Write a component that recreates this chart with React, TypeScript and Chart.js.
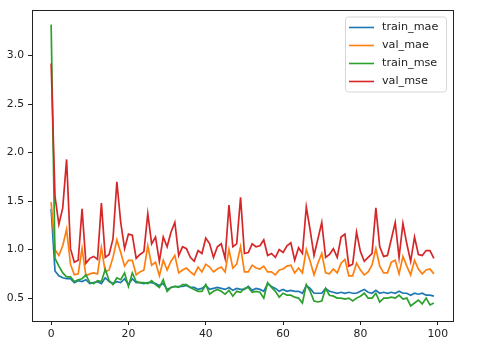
import React, { useEffect, useRef } from "react";
import { Chart, registerables } from "chart.js";

Chart.register(...registerables);

const seriesNames = ["train_mae", "val_mae", "train_mse", "val_mse"];
const seriesColors = ["#1f77b4", "#ff7f0e", "#2ca02c", "#d62728"];

const trainMae = [
  1.42, 0.78, 0.73, 0.71, 0.70, 0.70, 0.66, 0.68, 0.67, 0.69,
  0.65, 0.66, 0.67, 0.65, 0.71, 0.67, 0.65, 0.67, 0.66, 0.70,
  0.64, 0.70, 0.66, 0.66, 0.65, 0.66, 0.66, 0.65, 0.63, 0.65,
  0.59, 0.61, 0.62, 0.62, 0.62, 0.63, 0.61, 0.61, 0.59, 0.60,
  0.63, 0.59, 0.60, 0.61, 0.60, 0.59, 0.61, 0.58, 0.60, 0.59,
  0.59, 0.62, 0.58, 0.60, 0.59, 0.57, 0.65, 0.62, 0.60, 0.57,
  0.59, 0.57, 0.58, 0.57, 0.57, 0.55, 0.63, 0.60, 0.55, 0.55,
  0.55, 0.60, 0.57, 0.56, 0.55, 0.56, 0.55, 0.56, 0.55, 0.55,
  0.57, 0.59, 0.56, 0.55, 0.58, 0.55, 0.56, 0.55, 0.56, 0.55,
  0.57, 0.55, 0.55, 0.53, 0.55, 0.54, 0.55, 0.53, 0.53, 0.52,
];

const valMae = [
  1.49, 1.00, 0.94, 1.04, 1.21, 0.85, 0.74, 0.75, 1.01, 0.73,
  0.75, 0.76, 0.75, 1.02, 0.77, 0.79, 0.92, 1.10, 0.97, 0.83,
  0.89, 0.89, 0.74, 0.77, 0.79, 1.04, 0.84, 0.87, 0.73, 0.89,
  0.79, 0.88, 0.94, 0.76, 0.79, 0.81, 0.77, 0.74, 0.82, 0.77,
  0.85, 0.82, 0.77, 0.80, 0.82, 0.77, 1.00, 0.81, 0.85, 1.03,
  0.77, 0.77, 0.84, 0.81, 0.80, 0.83, 0.77, 0.77, 0.74, 0.79,
  0.80, 0.83, 0.84, 0.76, 0.81, 0.76, 1.00, 0.88, 0.74, 0.86,
  0.96, 0.76, 0.75, 0.80, 0.76, 0.86, 0.90, 0.73, 0.73, 0.86,
  0.79, 0.74, 0.77, 0.84, 1.01, 0.83, 0.76, 0.76, 0.87, 0.89,
  0.75, 0.93, 0.83, 0.74, 0.89, 0.80, 0.75, 0.79, 0.80, 0.75,
];

const trainMse = [
  3.32, 0.91, 0.83, 0.76, 0.72, 0.72, 0.67, 0.69, 0.70, 0.74,
  0.66, 0.65, 0.68, 0.67, 0.80, 0.68, 0.64, 0.71, 0.69, 0.76,
  0.62, 0.76, 0.67, 0.66, 0.66, 0.65, 0.68, 0.64, 0.61, 0.69,
  0.57, 0.61, 0.62, 0.61, 0.64, 0.64, 0.61, 0.59, 0.57, 0.57,
  0.64, 0.54, 0.57, 0.59, 0.57, 0.54, 0.58, 0.52, 0.57, 0.56,
  0.60, 0.61, 0.56, 0.57, 0.56, 0.50, 0.66, 0.61, 0.57, 0.51,
  0.55, 0.53, 0.53, 0.51, 0.50, 0.45, 0.64, 0.57, 0.47, 0.46,
  0.47, 0.60, 0.53, 0.52, 0.50, 0.50, 0.49, 0.50, 0.47, 0.50,
  0.52, 0.55, 0.50, 0.50, 0.55, 0.46, 0.50, 0.50, 0.51, 0.50,
  0.53, 0.49, 0.50, 0.42, 0.45, 0.48, 0.44, 0.50, 0.43, 0.45,
];

const valMse = [
  2.92, 1.55, 1.26, 1.43, 1.93, 1.01, 0.87, 0.89, 1.42, 0.86,
  0.91, 0.93, 0.90, 1.48, 0.92, 0.95, 1.11, 1.70, 1.28, 1.01,
  1.16, 1.15, 0.91, 0.95, 0.98, 1.37, 1.06, 1.13, 0.88, 1.13,
  1.03, 1.18, 1.28, 0.94, 1.03, 1.01, 0.92, 0.88, 0.99, 0.96,
  1.12, 1.06, 0.92, 1.03, 1.06, 0.91, 1.46, 1.03, 1.06, 1.54,
  0.96, 0.97, 1.06, 1.03, 1.04, 1.10, 0.94, 0.96, 0.92, 1.00,
  0.97, 1.04, 1.07, 0.89, 1.02, 0.96, 1.44, 1.20, 0.94, 1.11,
  1.28, 0.92, 0.95, 1.01, 0.92, 1.13, 1.16, 0.83, 0.85, 1.18,
  0.98, 0.88, 0.92, 0.96, 1.43, 1.03, 0.93, 0.94, 1.11, 1.28,
  0.92, 1.27, 1.06, 0.88, 1.13, 0.95, 0.94, 0.99, 0.99, 0.91,
];

const xTicks = [0, 20, 40, 60, 80, 100];
const yTicks = [0.5, 1.0, 1.5, 2.0, 2.5, 3.0];

const FONT = "'DejaVu Sans', sans-serif";

const framePlugin = {
  id: "frameAndLegend",
  afterDatasetsDraw(chart: any) {
    const ctx = chart.ctx;
    const { left, right, top, bottom } = chart.chartArea;
    ctx.save();
    ctx.strokeStyle = "#222";
    ctx.lineWidth = 1;
    ctx.strokeRect(Math.round(left) + 0.5, Math.round(top) + 0.5, Math.round(right - left), Math.round(bottom - top));

    // legend (matplotlib style, upper right inside axes)
    const boxW = 101;
    const boxH = 75;
    const x0 = right - 7 - boxW;
    const y0 = top + 6;
    ctx.beginPath();
    (ctx as any).roundRect(x0 + 0.5, y0 + 0.5, boxW, boxH, 3);
    ctx.fillStyle = "rgba(255,255,255,0.8)";
    ctx.fill();
    ctx.strokeStyle = "#d6d6d6";
    ctx.lineWidth = 1;
    ctx.stroke();
    ctx.font = `11.2px ${FONT}`;
    ctx.textBaseline = "middle";
    ctx.textAlign = "left";
    chart.data.datasets.forEach((ds: any, i: number) => {
      const yy = y0 + 11 + i * 18;
      ctx.beginPath();
      ctx.strokeStyle = ds.borderColor;
      ctx.lineWidth = 1.6;
      ctx.moveTo(x0 + 4, yy);
      ctx.lineTo(x0 + 29, yy);
      ctx.stroke();
      ctx.fillStyle = "#222";
      ctx.fillText(ds.label, x0 + 37, yy);
    });
    ctx.restore();
  },
};

export default function App() {
  const canvasRef = useRef<HTMLCanvasElement | null>(null);

  useEffect(() => {
    const canvas = canvasRef.current;
    if (!canvas) return;
    const all = [trainMae, valMae, trainMse, valMse];
    const chart = new Chart(canvas, {
      type: "line",
      data: {
        datasets: all.map((arr, k) => ({
          label: seriesNames[k],
          data: arr.map((v, i) => ({ x: i, y: v })),
          borderColor: seriesColors[k],
          backgroundColor: seriesColors[k],
          borderWidth: 1.7,
          pointRadius: 0,
          tension: 0,
          fill: false,
          order: 3 - k,
        })),
      },
      options: {
        animation: false,
        responsive: false,
        devicePixelRatio: 1,
        layout: { padding: { left: 0, right: 27, top: 8, bottom: 0 } },
        plugins: {
          legend: { display: false },
          tooltip: { enabled: false },
        },
        scales: {
          x: {
            type: "linear",
            min: -4.95,
            max: 103.95,
            afterBuildTicks: (scale: any) => {
              scale.ticks = xTicks.map((v) => ({ value: v }));
            },
            afterFit: (scale: any) => {
              scale.height = 29;
            },
            ticks: {
              color: "#222",
              font: { family: FONT, size: 10.8 },
              padding: 3,
              maxRotation: 0,
              callback: (v: any) => String(v),
            },
            grid: {
              drawOnChartArea: false,
              drawTicks: true,
              tickLength: 4,
              color: "#222",
              lineWidth: 1,
            },
            border: { display: false },
          },
          y: {
            type: "linear",
            min: 0.264,
            max: 3.466,
            afterBuildTicks: (scale: any) => {
              scale.ticks = yTicks.map((v) => ({ value: v }));
            },
            afterFit: (scale: any) => {
              scale.width = 32;
            },
            ticks: {
              color: "#222",
              font: { family: FONT, size: 10.8 },
              padding: 4,
              callback: (v: any) => Number(v).toFixed(1),
            },
            grid: {
              drawOnChartArea: false,
              drawTicks: true,
              tickLength: 4,
              color: "#222",
              lineWidth: 1,
            },
            border: { display: false },
          },
        },
      },
      plugins: [framePlugin],
    });
    return () => chart.destroy();
  }, []);

  return (
    <div style={{ position: "fixed", left: 0, top: 0, width: 480, height: 350, background: "#fff" }}>
      <canvas ref={canvasRef} width={480} height={350} style={{ width: 480, height: 350, display: "block" }} />
    </div>
  );
}
